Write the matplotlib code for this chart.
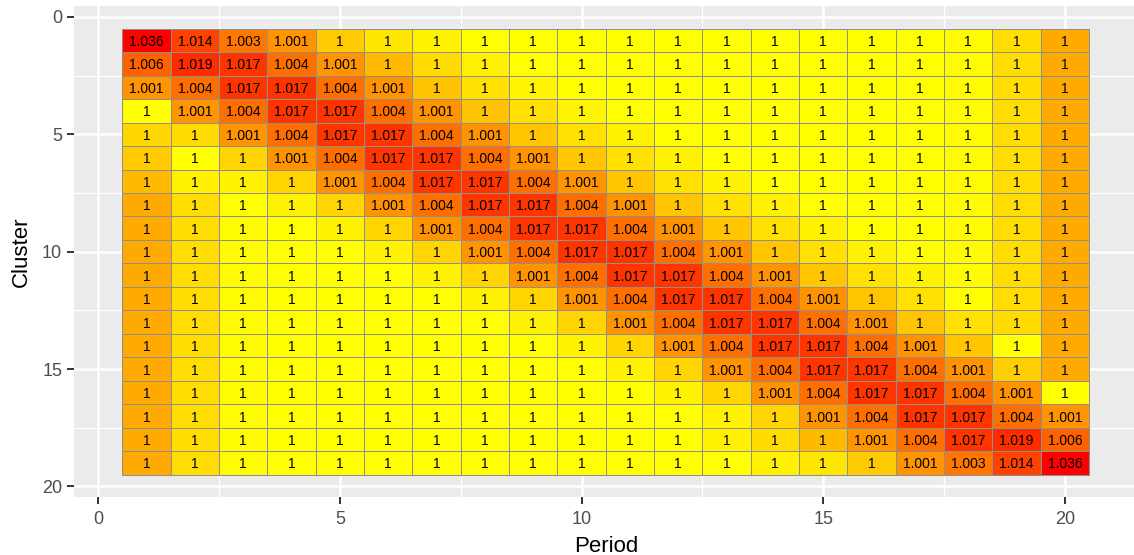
import numpy as np
import matplotlib
matplotlib.use("Agg")
import matplotlib.pyplot as plt
from matplotlib.colors import LinearSegmentedColormap, FuncNorm

# eksenler
periods = list(range(1, 21))
clusters = list(range(1, 20))

# hücre değerleri (satır = cluster, sütun = period); etiketler 3 haneye yuvarlanır
values = [
    [1.036, 1.014, 1.003, 1.001, 1.0001, 1.00002, 1.00001, 1, 1, 1, 1, 1, 1, 1, 1, 1, 1, 1.0000025, 1.000035, 1.0004],
    [1.006, 1.019, 1.017, 1.004, 1.001, 1.0002, 1.00004, 1.00001, 1, 1, 1, 1, 1, 1, 1, 1, 1, 1.0000025, 1.000035, 1.0004],
    [1.001, 1.004, 1.017, 1.017, 1.004, 1.001, 1.00014, 1.00003, 1.000006, 1, 1, 1, 1, 1, 1, 1, 1, 1.0000025, 1.000035, 1.0004],
    [1, 1.001, 1.004, 1.017, 1.017, 1.004, 1.001, 1.00014, 1.00003, 1.000006, 1, 1, 1, 1, 1, 1, 1, 1.0000025, 1.000035, 1.0004],
    [1.00005, 1.00004, 1.001, 1.004, 1.017, 1.017, 1.004, 1.001, 1.00012, 1.00003, 1.000008, 1, 1, 1, 1, 1, 1, 1.0000025, 1.000035, 1.0004],
    [1.0001, 1, 1.00006, 1.001, 1.004, 1.017, 1.017, 1.004, 1.001, 1.00012, 1.00003, 1.000008, 1, 1, 1, 1, 1, 1.0000025, 1.000035, 1.0004],
    [1.0002, 1.00001, 1.000008, 1.00006, 1.001, 1.004, 1.017, 1.017, 1.004, 1.001, 1.00012, 1.00003, 1.000008, 1, 1, 1, 1, 1.0000025, 1.000035, 1.0004],
    [1.0004, 1.000035, 1, 1.000008, 1.00006, 1.001, 1.004, 1.017, 1.017, 1.004, 1.001, 1.00012, 1.00003, 1.000008, 1, 1, 1, 1.0000025, 1.000035, 1.0004],
    [1.0004, 1.000035, 1.0000025, 1, 1.000008, 1.00006, 1.001, 1.004, 1.017, 1.017, 1.004, 1.001, 1.00012, 1.00003, 1.000008, 1, 1, 1.0000025, 1.000035, 1.0004],
    [1.0004, 1.000035, 1.0000025, 1, 1, 1.000008, 1.00006, 1.001, 1.004, 1.017, 1.017, 1.004, 1.001, 1.00012, 1.00003, 1.000008, 1, 1.0000025, 1.000035, 1.0004],
    [1.0004, 1.000035, 1.0000025, 1, 1, 1, 1.000008, 1.00006, 1.001, 1.004, 1.017, 1.017, 1.004, 1.001, 1.00012, 1.00003, 1.000008, 1.0000025, 1.000035, 1.0004],
    [1.0004, 1.000035, 1.0000025, 1, 1, 1, 1, 1.000008, 1.00006, 1.001, 1.004, 1.017, 1.017, 1.004, 1.001, 1.00012, 1.00003, 1, 1.000035, 1.0004],
    [1.0004, 1.000035, 1.0000025, 1, 1, 1, 1, 1, 1.000008, 1.00006, 1.001, 1.004, 1.017, 1.017, 1.004, 1.001, 1.00012, 1.00003, 1.00004, 1.0004],
    [1.0004, 1.000035, 1.0000025, 1, 1, 1, 1, 1, 1, 1.000008, 1.00006, 1.001, 1.004, 1.017, 1.017, 1.004, 1.001, 1.00012, 1, 1.0004],
    [1.0004, 1.000035, 1.0000025, 1, 1, 1, 1, 1, 1, 1, 1.000008, 1.00006, 1.001, 1.004, 1.017, 1.017, 1.004, 1.001, 1.00008, 1.0004],
    [1.0004, 1.000035, 1.0000025, 1, 1, 1, 1, 1, 1, 1, 1, 1.000008, 1.00006, 1.001, 1.004, 1.017, 1.017, 1.004, 1.001, 1],
    [1.0004, 1.000035, 1.0000025, 1, 1, 1, 1, 1, 1, 1, 1, 1, 1.000008, 1.00006, 1.001, 1.004, 1.017, 1.017, 1.004, 1.001],
    [1.0004, 1.000035, 1.0000025, 1, 1, 1, 1, 1, 1, 1, 1, 1, 1.00001, 1.00004, 1.0002, 1.001, 1.004, 1.017, 1.019, 1.006],
    [1.0004, 1.000035, 1.0000025, 1, 1, 1, 1, 1, 1, 1, 1, 1, 1, 1.00001, 1.00002, 1.0001, 1.001, 1.003, 1.014, 1.036],
]

x_ticks = [0, 5, 10, 15, 20]
y_ticks = [0, 5, 10, 15, 20]

# sarıdan kırmızıya (Lab ara renkleri)
fill_colors = ["#FFFF00", "#FFE800", "#FFD100", "#FFBA00", "#FFA100",
               "#FF8800", "#FF6B00", "#FF4900", "#FF0000"]

plt.rcParams["font.family"] = ["Liberation Sans", "DejaVu Sans"]

Z = np.array(values)
cmap = LinearSegmentedColormap.from_list("yr", fill_colors)
eps = 1e-5
norm = FuncNorm((lambda v: np.log10(np.asarray(v) - 1 + eps),
                 lambda y: 10 ** np.asarray(y) + 1 - eps),
                vmin=1.0, vmax=Z.max())

fig = plt.figure(figsize=(11.34, 5.55), dpi=100)
ax = fig.add_axes([74.1 / 1134, 58 / 555, 1063.3 / 1134, 490.6 / 555])
ax.set_facecolor("#EBEBEB")

x_edges = np.append(np.array(periods) - 0.5, periods[-1] + 0.5)
y_edges = np.append(np.array(clusters) - 0.5, clusters[-1] + 0.5)
ax.pcolormesh(x_edges, y_edges, Z, cmap=cmap, norm=norm,
              edgecolors="#8F8F8F", linewidth=0.6)

for i, cl in enumerate(clusters):
    for j, pe in enumerate(periods):
        ax.text(pe, cl, f"{round(values[i][j], 3):g}", ha="center",
                va="center_baseline", fontsize=10, color="black")

ax.set_xlim(-0.5, 21.5)
ax.set_ylim(20.45, -0.45)
ax.set_xticks(x_ticks)
ax.set_yticks(y_ticks)
ax.set_xticks([2.5, 7.5, 12.5, 17.5], minor=True)
ax.set_yticks([2.5, 7.5, 12.5, 17.5], minor=True)
ax.set_axisbelow(True)
ax.grid(True, which="major", color="white", linewidth=1.8)
ax.grid(True, which="minor", color="white", linewidth=0.9)
for s in ax.spines.values():
    s.set_visible(False)

ax.tick_params(which="major", length=5, width=1.4, color="#333333",
               labelsize=13, labelcolor="#4D4D4D")
ax.tick_params(axis="x", which="major", pad=5)
ax.tick_params(axis="y", which="major", pad=3.6)
ax.tick_params(which="minor", length=0)

ax.set_xlabel("Period", fontsize=16, labelpad=6)
ax.set_ylabel("Cluster", fontsize=16, labelpad=7)

fig.savefig("out.png", dpi=100)
